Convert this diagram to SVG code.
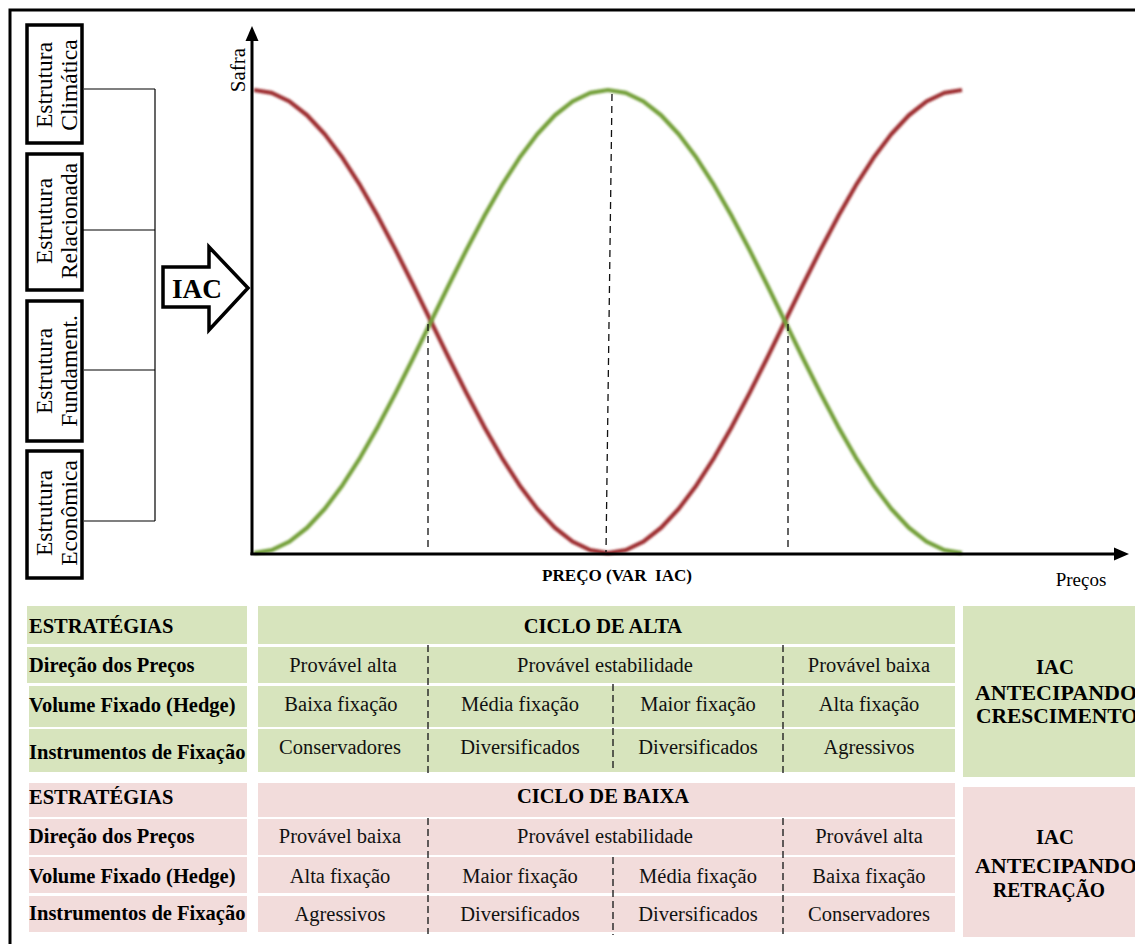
<svg xmlns="http://www.w3.org/2000/svg" width="1135" height="944" viewBox="0 0 1135 944">
<style>
  .box{fill:#fff;stroke:#000;stroke-width:3.5}
  .conn{stroke:#000;stroke-width:1.2;fill:none}
  .lbl{font-family:"Liberation Serif","Times New Roman",serif;font-size:23.5px;fill:#000;text-anchor:middle}
  .axis{stroke:#000;stroke-width:3;fill:none}
  .dash{stroke:#111;stroke-width:1.3;stroke-dasharray:7 5;fill:none}
  .tdash{stroke:#222;stroke-width:1.4;stroke-dasharray:7 4;fill:none}
  .green{fill:#d7e4bd}
  .pink{fill:#f2dcdb}
  .hb{font-family:"Liberation Serif","Times New Roman",serif;font-size:20.5px;font-weight:bold;fill:#000}
  .tc{font-family:"Liberation Serif","Times New Roman",serif;font-size:20.5px;fill:#111;text-anchor:middle}
  .iac{font-family:"Liberation Serif","Times New Roman",serif;font-size:20px;font-weight:bold;fill:#000;text-anchor:middle}
</style>
<defs>
  <filter id="soft" x="-5%" y="-5%" width="110%" height="110%"><feGaussianBlur stdDeviation="1"/></filter>
</defs>
<rect x="0" y="0" width="1135" height="944" fill="#fff"/>
<rect x="10" y="10" width="1140" height="950" fill="none" stroke="#000" stroke-width="3"/>

<g id="connectors">
  <line class="conn" x1="84" y1="89" x2="155" y2="89"/>
  <line class="conn" x1="77" y1="230" x2="155" y2="230"/>
  <line class="conn" x1="84" y1="370" x2="155" y2="370"/>
  <line class="conn" x1="84" y1="521" x2="155" y2="521"/>
  <line class="conn" x1="155" y1="89" x2="155" y2="521"/>
</g>

<g id="node-climatica">
  <rect class="box" x="27" y="25" width="55" height="118"/>
  <text class="lbl" transform="translate(52,85) rotate(-90)">Estrutura</text>
  <text class="lbl" transform="translate(77,85) rotate(-90)">Climática</text>
</g>
<g id="node-relacionada">
  <rect class="box" x="27" y="154" width="55" height="136"/>
  <text class="lbl" transform="translate(52,221) rotate(-90)">Estrutura</text>
  <text class="lbl" transform="translate(77,221) rotate(-90)">Relacionada</text>
</g>
<g id="node-fundament">
  <rect class="box" x="27" y="301" width="55" height="140"/>
  <text class="lbl" transform="translate(52,371) rotate(-90)">Estrutura</text>
  <text class="lbl" transform="translate(77,371) rotate(-90)">Fundament.</text>
</g>
<g id="node-economica">
  <rect class="box" x="27" y="451" width="55" height="127"/>
  <text class="lbl" transform="translate(52,513) rotate(-90)">Estrutura</text>
  <text class="lbl" transform="translate(77,513) rotate(-90)">Econômica</text>
</g>

<g id="node-iac-arrow">
  <polygon points="163,267 209,267 209,247 248,288 209,330 209,307 163,307" fill="#fff" stroke="#000" stroke-width="3.5" stroke-linejoin="miter"/>
  <text x="197" y="298" font-family="Liberation Serif, Times New Roman, serif" font-size="27" font-weight="bold" text-anchor="middle" textLength="50" lengthAdjust="spacingAndGlyphs">IAC</text>
</g>

<g id="chart">
  <polyline filter="url(#soft)" fill="none" stroke="#9e2f30" stroke-width="4.2" stroke-linejoin="round" points="254,90 271.7,92.85 289.4,101.33 307.1,115.23 324.8,134.21 342.5,157.8 360.2,185.43 377.9,216.4 395.6,249.96 413.3,285.29 431,321.5 448.7,357.71 466.4,393.04 484.1,426.6 501.8,457.57 519.5,485.2 537.2,508.79 554.9,527.77 572.6,541.67 590.3,550.15 608,553 625.7,550.15 643.4,541.67 661.1,527.77 678.8,508.79 696.5,485.2 714.2,457.57 731.9,426.6 749.6,393.04 767.3,357.71 785,321.5 802.7,285.29 820.4,249.96 838.1,216.4 855.8,185.43 873.5,157.8 891.2,134.21 908.9,115.23 926.6,101.33 944.3,92.85 962,90"/>
  <polyline filter="url(#soft)" fill="none" stroke="#74a03a" stroke-width="4.2" stroke-linejoin="round" points="254,553 271.7,550.15 289.4,541.67 307.1,527.77 324.8,508.79 342.5,485.2 360.2,457.57 377.9,426.6 395.6,393.04 413.3,357.71 431,321.5 448.7,285.29 466.4,249.96 484.1,216.4 501.8,185.43 519.5,157.8 537.2,134.21 554.9,115.23 572.6,101.33 590.3,92.85 608,90 625.7,92.85 643.4,101.33 661.1,115.23 678.8,134.21 696.5,157.8 714.2,185.43 731.9,216.4 749.6,249.96 767.3,285.29 785,321.5 802.7,357.71 820.4,393.04 838.1,426.6 855.8,457.57 873.5,485.2 891.2,508.79 908.9,527.77 926.6,541.67 944.3,550.15 962,553"/>
  <line class="dash" x1="428" y1="324" x2="428" y2="549"/>
  <line class="dash" x1="612" y1="94" x2="606" y2="552"/>
  <line class="dash" x1="788" y1="324" x2="788" y2="549"/>
  <line class="axis" x1="252" y1="38" x2="252" y2="555"/>
  <polygon points="252,26 245.5,41 258.5,41" fill="#000"/>
  <line class="axis" x1="250.5" y1="554" x2="1116" y2="554"/>
  <polygon points="1129,554 1114,547.5 1114,560.5" fill="#000"/>
  <text transform="translate(245,70) rotate(-90)" font-family="Liberation Serif, Times New Roman, serif" font-size="21" text-anchor="middle">Safra</text>
  <text x="617" y="581" xml:space="preserve" font-family="Liberation Serif, Times New Roman, serif" font-size="16" font-weight="bold" text-anchor="middle" textLength="150" lengthAdjust="spacingAndGlyphs">PREÇO (VAR  IAC)</text>
  <text x="1081" y="586" font-family="Liberation Serif, Times New Roman, serif" font-size="19" text-anchor="middle">Preços</text>
</g>

<g id="table-alta">
  <rect class="green" x="27" y="606" width="220" height="38"/>
  <rect class="green" x="27" y="647" width="220" height="36"/>
  <rect class="green" x="29" y="686" width="218" height="41"/>
  <rect class="green" x="29" y="729" width="218" height="43"/>
  <rect class="green" x="258" y="606" width="697" height="38"/>
  <rect class="green" x="258" y="647" width="697" height="36"/>
  <rect class="green" x="258" y="686" width="697" height="41"/>
  <rect class="green" x="258" y="729" width="697" height="43"/>
  <text class="hb" x="29" y="633">ESTRATÉGIAS</text>
  <text class="hb" x="29" y="672">Direção dos Preços</text>
  <text class="hb" x="29" y="712">Volume Fixado (Hedge)</text>
  <text class="hb" x="29" y="759">Instrumentos de Fixação</text>
  <text class="hb" x="603" y="633" text-anchor="middle">CICLO DE ALTA</text>
  <text class="tc" x="343" y="672">Provável alta</text>
  <text class="tc" x="605" y="672">Provável estabilidade</text>
  <text class="tc" x="869" y="672">Provável baixa</text>
  <text class="tc" x="341" y="711">Baixa fixação</text>
  <text class="tc" x="520" y="711">Média fixação</text>
  <text class="tc" x="698" y="711">Maior fixação</text>
  <text class="tc" x="869" y="711">Alta fixação</text>
  <text class="tc" x="340" y="754">Conservadores</text>
  <text class="tc" x="520" y="754">Diversificados</text>
  <text class="tc" x="698" y="754">Diversificados</text>
  <text class="tc" x="869" y="754">Agressivos</text>
</g>

<g id="node-iac-crescimento">
  <rect class="green" x="963" y="606" width="180" height="171"/>
  <text class="iac" x="1055" y="674" textLength="38" lengthAdjust="spacingAndGlyphs">IAC</text>
  <text class="iac" x="1056" y="700" textLength="162" lengthAdjust="spacingAndGlyphs">ANTECIPANDO</text>
  <text class="iac" x="1057" y="723" textLength="162" lengthAdjust="spacingAndGlyphs">CRESCIMENTO</text>
</g>

<g id="table-baixa">
  <rect class="pink" x="29" y="783" width="218" height="34"/>
  <rect class="pink" x="29" y="819" width="218" height="36"/>
  <rect class="pink" x="29" y="857" width="218" height="36"/>
  <rect class="pink" x="29" y="896" width="218" height="36"/>
  <rect class="pink" x="258" y="783" width="697" height="34"/>
  <rect class="pink" x="258" y="819" width="697" height="36"/>
  <rect class="pink" x="258" y="857" width="697" height="36"/>
  <rect class="pink" x="258" y="896" width="697" height="36"/>
  <text class="hb" x="29" y="804">ESTRATÉGIAS</text>
  <text class="hb" x="29" y="843">Direção dos Preços</text>
  <text class="hb" x="29" y="883">Volume Fixado (Hedge)</text>
  <text class="hb" x="29" y="920">Instrumentos de Fixação</text>
  <text class="hb" x="603" y="803" text-anchor="middle">CICLO DE BAIXA</text>
  <text class="tc" x="340" y="843">Provável baixa</text>
  <text class="tc" x="605" y="843">Provável estabilidade</text>
  <text class="tc" x="869" y="843">Provável alta</text>
  <text class="tc" x="340" y="883">Alta fixação</text>
  <text class="tc" x="520" y="883">Maior fixação</text>
  <text class="tc" x="698" y="883">Média fixação</text>
  <text class="tc" x="869" y="883">Baixa fixação</text>
  <text class="tc" x="340" y="921">Agressivos</text>
  <text class="tc" x="520" y="921">Diversificados</text>
  <text class="tc" x="698" y="921">Diversificados</text>
  <text class="tc" x="869" y="921">Conservadores</text>
</g>

<g id="node-iac-retracao">
  <rect class="pink" x="963" y="787" width="180" height="150"/>
  <text class="iac" x="1055" y="844" textLength="38" lengthAdjust="spacingAndGlyphs">IAC</text>
  <text class="iac" x="1056" y="873" textLength="162" lengthAdjust="spacingAndGlyphs">ANTECIPANDO</text>
  <text class="iac" x="1049" y="897" textLength="112" lengthAdjust="spacingAndGlyphs">RETRAÇÃO</text>
</g>

<g id="table-dividers">
  <line class="tdash" x1="428" y1="645" x2="428" y2="774"/>
  <line class="tdash" x1="783" y1="645" x2="783" y2="774"/>
  <line class="tdash" x1="428" y1="818" x2="428" y2="934"/>
  <line class="tdash" x1="783" y1="818" x2="783" y2="934"/>
  <line class="tdash" x1="613" y1="684" x2="613" y2="772"/>
  <line class="tdash" x1="613" y1="857" x2="613" y2="935"/>
</g>
</svg>
